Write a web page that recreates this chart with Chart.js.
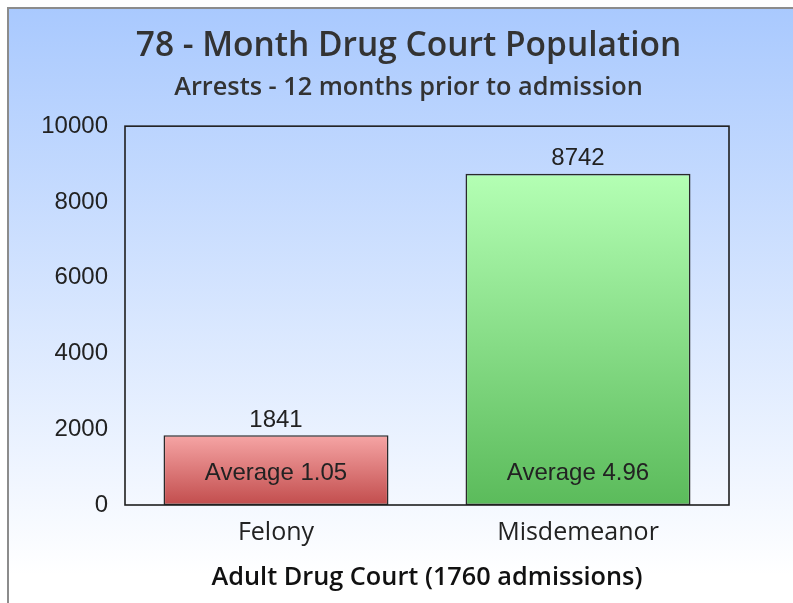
<!DOCTYPE html>
<html>
<head>
<meta charset="utf-8">
<script src="https://cdn.jsdelivr.net/npm/chart.js@4"></script>
<style>
html,body{margin:0;padding:0;background:#fff;}
#wrap{width:793px;height:603px;}
</style>
</head>
<body>
<div id="wrap"><canvas id="c" width="793" height="603"></canvas></div>
<script>
const categories = ['Felony', 'Misdemeanor'];
const arrests = [1841, 8742];
const averages = ['Average 1.05', 'Average 4.96'];
const yTicks = [0, 2000, 4000, 6000, 8000, 10000];
const chartTitle = '78 - Month Drug Court Population';
const chartSubtitle = 'Arrests - 12 months prior to admission';
const xAxisTitle = 'Adult Drug Court (1760 admissions)';

const topColors = ['#f6a5a5', '#b4ffb4'];
const bottomColors = ['#c24d4d', '#5bbb5b'];

const bgPlugin = {
  id: 'bg',
  beforeDraw(chart) {
    const ctx = chart.ctx;
    ctx.save();
    ctx.fillStyle = '#ffffff';
    ctx.fillRect(0, 0, chart.width, chart.height);
    const g = ctx.createLinearGradient(0, 8, 0, 575);
    g.addColorStop(0, '#a9c9fe');
    g.addColorStop(1, '#ffffff');
    ctx.fillStyle = g;
    ctx.fillRect(8, 8, chart.width - 8, chart.height - 8);
    ctx.strokeStyle = '#8c8c8c';
    ctx.lineWidth = 2;
    ctx.beginPath();
    ctx.moveTo(8, chart.height);
    ctx.lineTo(8, 8);
    ctx.lineTo(chart.width, 8);
    ctx.stroke();
    ctx.restore();
  },
  afterDatasetsDraw(chart) {
    const ctx = chart.ctx;
    const a = chart.chartArea;
    ctx.save();
    ctx.strokeStyle = '#1e1e1e';
    ctx.lineWidth = 1.6;
    ctx.strokeRect(a.left, a.top, a.right - a.left, a.bottom - a.top);
    const meta = chart.getDatasetMeta(0);
    ctx.fillStyle = '#222';
    ctx.textAlign = 'center';
    ctx.textBaseline = 'middle';
    ctx.font = '24px "Liberation Sans", Arial, sans-serif';
    meta.data.forEach((bar, i) => {
      ctx.fillText(String(arrests[i]), bar.x, bar.y - 15);
      ctx.fillText(averages[i], bar.x, bar.base - 32);
    });
    ctx.restore();
  }
};

new Chart(document.getElementById('c'), {
  type: 'bar',
  data: {
    labels: categories,
    datasets: [{
      data: arrests,
      backgroundColor(ctx) {
        const chart = ctx.chart;
        const a = chart.chartArea;
        if (!a) return topColors[ctx.dataIndex];
        const y = chart.scales.y;
        const top = y.getPixelForValue(arrests[ctx.dataIndex]);
        const g = chart.ctx.createLinearGradient(0, top, 0, y.getPixelForValue(0));
        g.addColorStop(0, topColors[ctx.dataIndex]);
        g.addColorStop(1, bottomColors[ctx.dataIndex]);
        return g;
      },
      borderColor: '#2a2a2a',
      borderWidth: 1.6,
      borderSkipped: false,
      barPercentage: 0.745,
      categoryPercentage: 1.0
    }]
  },
  options: {
    responsive: false,
    animation: false,
    devicePixelRatio: 1,
    layout: { padding: { left: 24, right: 0, top: 0, bottom: 0 } },
    plugins: {
      legend: { display: false },
      tooltip: { enabled: false },
      title: {
        display: true,
        text: chartTitle,
        color: '#333',
        font: { family: '"Open Sans", sans-serif', size: 33.5, weight: '600', lineHeight: 1.2 },
        padding: { top: 26, bottom: 6.6 }
      },
      subtitle: {
        display: true,
        text: chartSubtitle,
        color: '#333',
        font: { family: '"Open Sans", sans-serif', size: 25.3, weight: '600', lineHeight: 1.2 },
        padding: { top: 0, bottom: 23 }
      }
    },
    scales: {
      x: {
        afterFit(scale) { scale.height = 98; },
        grid: { display: false, drawTicks: false },
        border: { display: false },
        ticks: {
          color: '#222',
          padding: 13,
          font: { family: '"Open Sans", sans-serif', size: 25, lineHeight: 1.2 }
        },
        title: {
          display: true,
          text: xAxisTitle,
          color: '#111',
          font: { family: '"Open Sans", sans-serif', size: 25.3, weight: '600', lineHeight: 1.2 },
          padding: { top: 4, bottom: 10.5 }
        }
      },
      y: {
        min: 0,
        max: 10000,
        afterFit(scale) { scale.width = 101; },
        afterBuildTicks(scale) { scale.ticks = yTicks.map(v => ({ value: v })); },
        grid: { display: false, drawTicks: false },
        border: { display: false },
        ticks: {
          color: '#222',
          padding: 17,
          callback: v => String(v),
          font: { family: '"Liberation Sans", Arial, sans-serif', size: 24 }
        }
      },
      spacer: {
        type: 'linear',
        position: 'right',
        display: true,
        afterFit(scale) { scale.width = 64; },
        grid: { display: false, drawTicks: false },
        border: { display: false },
        ticks: { display: false }
      }
    }
  },
  plugins: [bgPlugin]
});
</script>
</body>
</html>
